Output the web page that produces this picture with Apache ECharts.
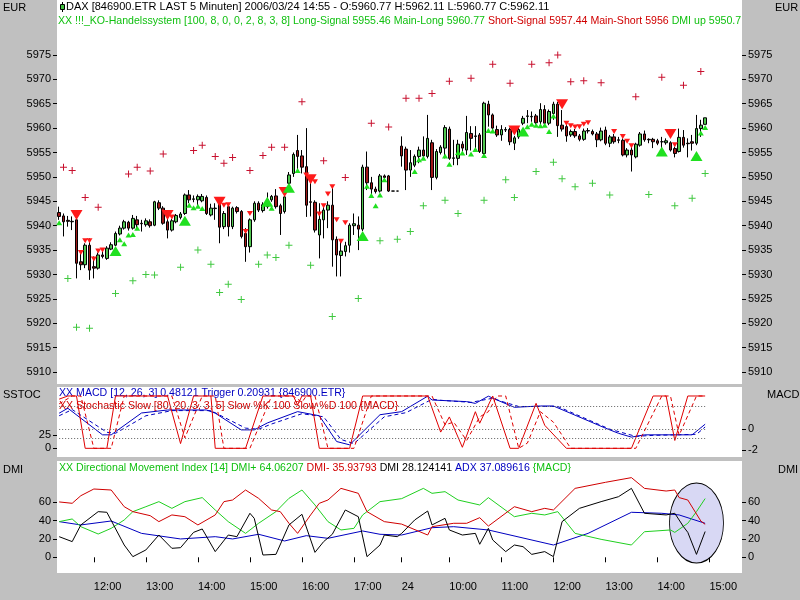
<!DOCTYPE html>
<html><head><meta charset="utf-8">
<script src="https://cdn.jsdelivr.net/npm/echarts@6/dist/echarts.min.js"></script>
<style>html,body{margin:0;padding:0;background:#c0c0c0;}#c{width:800px;height:600px;}</style>
</head><body><div id="c"></div>
<script>
// ---------- DATA ----------
// sessions (5-minute bars); trailing empty slots extend the axis to the right
const sessions = [['11:20','17:50'], ['09:05','15:35']];
const dayBreakLabel = '24';
// candles [open, high, low, close]
const ohlc = [
[5942.7,5943.9,5941.2,5941.9],[5942.0,5942.5,5937.8,5940.8],[5941.1,5942.0,5939.8,5940.9],[5940.8,5941.9,5939.1,5940.9],
[5941.2,5941.5,5929.2,5932.3],[5932.6,5934.3,5930.9,5932.0],[5932.0,5936.4,5931.3,5936.0],[5936.0,5937.4,5928.9,5930.9],
[5931.6,5933.7,5929.2,5931.3],[5931.3,5934.5,5931.0,5934.0],[5934.0,5935.0,5933.3,5933.7],[5933.3,5935.8,5933.0,5935.4],
[5935.2,5936.6,5935.0,5936.1],[5936.0,5938.8,5935.8,5938.4],[5938.3,5940.0,5938.0,5939.5],[5939.5,5941.2,5939.2,5940.8],
[5940.7,5941.0,5939.0,5939.5],[5939.5,5942.2,5939.2,5941.5],[5941.2,5942.0,5939.1,5940.2],[5940.5,5941.2,5938.8,5940.4],
[5940.2,5941.5,5939.8,5941.0],[5940.8,5941.3,5939.6,5940.0],[5940.1,5945.1,5939.9,5944.9],[5944.7,5945.2,5943.2,5943.6],
[5943.6,5944.0,5940.2,5940.5],[5940.8,5942.5,5937.4,5939.1],[5939.1,5941.4,5938.8,5941.0],[5940.8,5942.4,5940.5,5942.1],
[5941.7,5942.8,5941.3,5942.4],[5942.5,5946.6,5942.2,5946.3],[5946.3,5947.3,5944.6,5945.3],[5945.4,5946.2,5944.8,5945.5],
[5945.3,5946.4,5944.2,5946.0],[5945.1,5946.5,5944.8,5946.0],[5945.8,5946.2,5942.2,5942.5],[5942.2,5944.5,5941.9,5943.6],
[5943.5,5944.6,5941.2,5943.6],[5944.9,5945.3,5936.4,5939.7],[5939.8,5943.0,5939.3,5942.5],[5943.9,5944.3,5937.8,5939.8],
[5939.8,5943.9,5939.3,5943.6],[5943.7,5944.0,5942.5,5942.9],[5942.9,5943.2,5937.4,5937.8],[5938.4,5939.5,5932.6,5935.7],
[5935.7,5941.5,5934.5,5941.2],[5941.2,5945.0,5940.8,5944.6],[5944.6,5945.0,5942.8,5943.2],[5943.1,5944.8,5942.7,5944.3],
[5943.9,5946.8,5943.5,5945.3],[5945.3,5946.3,5944.9,5946.0],[5946.1,5947.5,5943.5,5943.9],[5944.1,5944.5,5938.1,5942.5],
[5942.9,5946.5,5942.5,5945.9],[5948.7,5951.0,5948.4,5950.4],[5950.7,5955.0,5950.0,5954.6],[5955.4,5958.6,5951.4,5954.2],
[5954.3,5955.5,5950.7,5952.0],[5952.1,5960.0,5941.8,5944.2],[5944.9,5949.4,5941.9,5944.8],[5944.8,5945.2,5938.6,5939.1],
[5938.1,5944.6,5933.3,5941.3],[5941.2,5944.2,5937.4,5943.2],[5943.2,5945.0,5939.5,5944.2],[5944.2,5948.0,5931.6,5937.1],
[5937.2,5937.8,5929.6,5934.0],[5933.9,5937.1,5929.6,5934.8],[5934.7,5936.7,5933.7,5935.9],[5936.0,5940.5,5934.5,5940.1],
[5940.0,5942.5,5938.1,5940.4],[5940.1,5941.9,5935.0,5939.3],[5939.3,5952.5,5938.9,5952.0],[5952.0,5955.2,5947.3,5948.8],
[5948.8,5950.0,5946.5,5947.5],[5947.5,5948.0,5946.6,5947.0],[5947.1,5950.6,5946.8,5950.2],[5950.2,5950.5,5949.6,5949.9],
[5950.2,5950.4,5946.9,5947.1],[5947.1,5947.1,5947.1,5947.1],[5947.1,5947.1,5947.1,5947.1],
[5956.3,5958.3,5952.1,5954.3],[5955.7,5956.2,5947.3,5951.4],[5951.4,5955.5,5950.0,5952.9],[5952.4,5954.6,5952.0,5954.2],
[5954.2,5956.2,5952.8,5955.5],[5955.5,5958.3,5953.5,5954.3],[5954.2,5962.7,5953.8,5957.9],[5957.0,5957.6,5947.3,5949.9],
[5949.9,5955.7,5949.5,5955.2],[5955.0,5956.5,5954.6,5956.1],[5955.9,5960.6,5953.8,5960.1],[5959.8,5960.3,5953.5,5953.8],
[5953.8,5957.6,5952.4,5953.9],[5953.8,5957.6,5952.4,5956.7],[5956.7,5957.3,5955.2,5955.9],[5955.5,5962.5,5954.5,5959.1],
[5958.9,5960.4,5955.4,5957.9],[5958.4,5960.4,5955.9,5958.3],[5958.6,5959.0,5954.9,5955.2],[5954.8,5965.4,5954.5,5965.1],
[5964.9,5965.6,5960.3,5962.7],[5962.7,5963.0,5959.6,5960.0],[5959.7,5960.5,5958.2,5958.6],[5958.6,5960.6,5957.4,5959.7],
[5959.6,5960.2,5959.2,5959.7],[5959.7,5960.1,5956.5,5957.2],[5956.9,5958.4,5955.5,5958.0],[5958.2,5960.2,5957.8,5959.7],
[5961.0,5962.5,5960.6,5962.0],[5962.4,5963.7,5961.0,5962.5],[5962.4,5963.4,5961.3,5962.3],[5962.5,5962.9,5960.8,5961.1],
[5961.3,5965.1,5960.6,5963.8],[5963.8,5964.7,5960.6,5961.0],[5961.0,5963.8,5960.6,5963.4],[5963.0,5965.4,5961.7,5964.9],
[5964.9,5965.4,5958.2,5960.5],[5960.6,5963.7,5959.3,5959.8],[5960.3,5960.7,5957.2,5958.4],[5958.6,5959.7,5958.2,5959.3],
[5959.3,5959.8,5958.0,5958.4],[5958.4,5958.8,5957.3,5957.7],[5957.7,5959.9,5957.4,5959.4],[5959.4,5960.0,5958.9,5959.5],
[5959.3,5959.7,5958.5,5958.8],[5958.8,5959.2,5956.1,5957.6],[5957.6,5960.1,5957.3,5959.4],[5959.6,5960.3,5956.5,5956.9],
[5956.9,5958.6,5956.1,5958.2],[5958.2,5958.8,5956.8,5957.2],[5957.6,5958.2,5956.9,5957.5],[5957.5,5957.9,5954.2,5954.5],
[5954.5,5955.9,5954.0,5955.5],[5955.5,5956.5,5951.1,5954.5],[5954.1,5957.0,5953.8,5956.7],[5956.5,5959.2,5956.2,5958.8],
[5958.8,5959.5,5957.2,5957.6],[5957.7,5957.9,5956.9,5957.6],[5957.7,5958.0,5955.9,5957.2],[5957.4,5957.8,5956.5,5956.9],
[5957.2,5958.2,5955.9,5957.2],[5957.0,5957.9,5956.6,5957.4],[5957.0,5957.3,5955.2,5955.5],[5955.8,5956.2,5954.0,5954.8],
[5955.2,5959.9,5955.0,5958.1],[5958.1,5959.6,5956.0,5956.5],[5956.9,5957.9,5954.0,5956.8],[5957.2,5958.6,5955.4,5956.9],
[5956.9,5962.7,5956.5,5959.9],[5959.9,5961.7,5958.2,5960.6],[5960.77,5962.11,5960.77,5962.11]
];
// signal markers [barIndex, price]
const shortStops = [[1,5952.0],[3,5951.3],[6,5945.8],[9,5943.8],[16,5950.6],[18,5952.0],[21,5951.2],[24,5954.7],[31,5955.4],[33,5956.5],[36,5954.2],[38,5952.8],[40,5954.0],[44,5951.3],[47,5954.4],[49,5956.1],[52,5956.1],[56,5965.4],[61,5953.3],[66,5949.9],[72,5961.0],[76,5960.2],[80,5966.1],[83,5966.1],[86,5967.1],[90,5969.6],[95,5970.2],[100,5973.1],[104,5969.2],[109,5973.1],[113,5973.4],[115,5975.0],[118,5969.5],[121,5969.7],[125,5969.3],[133,5966.4],[139,5970.4],[144,5968.8],[148,5971.6]];
const longStops = [[2,5929.2],[4,5919.2],[7,5919.0],[13,5926.1],[17,5928.7],[20,5930.0],[22,5929.9],[28,5931.5],[32,5935.0],[35,5932.1],[37,5926.3],[39,5928.0],[42,5924.9],[46,5932.1],[48,5934.0],[50,5933.5],[53,5936.0],[58,5931.9],[63,5921.4],[69,5925.1],[74,5936.9],[78,5937.2],[81,5938.8],[84,5944.1],[89,5945.2],[92,5942.5],[98,5945.2],[103,5949.4],[105,5945.8],[110,5951.1],[114,5953.0],[116,5949.6],[119,5948.0],[123,5948.7],[127,5946.3],[136,5946.4],[142,5944.1],[146,5945.6],[149,5950.7]];
const shortMain = [[4,5942.2],[25,5942.2],[37,5944.9],[52,5946.9],[58,5949.5],[105,5959.5],[116,5964.9],[141,5958.8]];
const shortSignal = [[5,5934.5],[6,5936.9],[7,5936.9],[8,5933.2],[9,5934.8],[10,5935.0],[26,5941.8],[38,5944.2],[39,5944.3],[43,5938.8],[44,5942.5],[57,5950.4],[59,5949.0],[60,5942.4],[61,5944.1],[62,5946.5],[63,5948.0],[64,5941.2],[65,5936.8],[66,5940.6],[117,5961.0],[118,5960.5],[119,5960.2],[120,5960.3],[121,5960.8],[122,5961.1],[128,5959.3],[130,5958.3],[131,5957.3],[132,5956.4],[142,5956.6]];
const longMain = [[13,5934.8],[29,5941.0],[48,5944.9],[53,5947.8],[70,5937.9],[107,5959.3],[139,5955.2],[147,5954.3]];
const longSignal = [[0,5940.6],[14,5937.1],[15,5936.3],[16,5938.1],[17,5938.2],[18,5939.5],[30,5944.2],[31,5943.7],[32,5944.0],[33,5943.5],[49,5943.6],[55,5951.3],[71,5948.1],[72,5946.2],[73,5944.1],[74,5946.3],[75,5949.4],[82,5951.1],[83,5953.5],[84,5953.8],[89,5954.3],[90,5952.6],[92,5955.0],[93,5954.9],[95,5954.7],[96,5955.6],[98,5954.4],[99,5959.5],[100,5959.4],[108,5960.3],[109,5960.8],[110,5960.6],[111,5960.5],[112,5960.6],[113,5959.3],[114,5962.5],[148,5959.0],[149,5960.1]];
// stochastic slow %K / %D  [barIndex, value]
const stochK = [[0,94],[2,100],[4,100],[6,0],[11,0],[13,100],[25,100],[28,9],[31,100],[35,100],[36,0],[43,0],[47,100],[54,100],[55,83],[56,100],[58,100],[60,0],[67,0],[70,100],[85,100],[88,31],[90,60],[93,2],[96,70],[97,48],[100,100],[104,0],[106,0],[110,86],[112,44],[117,0],[132,0],[137,100],[140,100],[142,15],[145,100],[149,100]];
const stochD = [[0,85],[3,100],[5,100],[8,0],[12,0],[15,100],[26,100],[29,20],[33,100],[36,100],[38,0],[44,0],[49,100],[54,100],[56,88],[57,100],[59,100],[62,0],[68,0],[72,100],[86,100],[89,45],[91,50],[94,15],[97,60],[99,70],[101,100],[103,100],[106,0],[108,10],[111,70],[114,50],[118,0],[133,0],[139,100],[141,100],[143,25],[147,100],[149,100]];
// MACD / trigger
const macd = [[0,1.55],[2,2.03],[10,-0.55],[12,-0.55],[19,1.57],[25,1.86],[34,1.86],[36,1.55],[42,-0.07],[45,-0.07],[48,0.6],[55,1.7],[60,1.3],[64,-1.2],[67,-1.52],[74,1.4],[79,1.7],[85,3.2],[86,2.83],[94,2.67],[96,2.5],[99,3.2],[101,2.83],[105,2.12],[111,2.25],[114,2.25],[126,0.1],[129,-0.4],[132,-0.77],[135,-0.55],[146,-0.55],[149,0.48]];
const trigger = [[0,1.3],[3,1.9],[11,-0.3],[13,-0.4],[20,1.3],[26,1.8],[35,1.8],[43,0.1],[46,0.0],[49,0.5],[56,1.5],[61,1.2],[65,-1.0],[68,-1.4],[75,1.2],[80,1.6],[86,2.9],[88,2.8],[95,2.6],[100,3.0],[102,2.7],[106,2.2],[112,2.2],[115,2.2],[127,0.0],[133,-0.7],[137,-0.6],[147,-0.5],[149,0.21]];
// DMI
const dmiPlus = [[0,38.9],[3,41.8],[5,33.4],[9,25.4],[12,31.6],[15,40.7],[17,49.8],[20,55.2],[23,60.7],[26,53.4],[29,60.7],[33,65.1],[36,51.6],[39,38.9],[43,26.1],[46,37.1],[50,49.8],[53,64.3],[56,73.4],[59,57.1],[62,38.9],[65,29.8],[68,31.6],[70,46.2],[74,60.7],[79,64],[84,75.2],[86,69.8],[89,71.6],[92,62.5],[97,57.1],[99,65.1],[105,44.3],[109,48.0],[112,46.2],[115,49.8],[119,26.1],[125,19.6],[132,13.4],[135,27.9],[141,29.8],[142,27.2],[145,37.1],[147,49.8],[149,64.06]];
const dmiMinus = [[0,60.4],[3,58.9],[5,67.2],[8,74.5],[12,73.4],[15,55.2],[17,49.8],[21,45.4],[23,38.9],[26,46.2],[29,44.3],[32,35.3],[36,46.2],[38,60.7],[40,62.5],[43,73.4],[46,64.3],[49,51.6],[51,49.8],[53,37.1],[55,26.1],[58,46.2],[60,58.9],[62,62.5],[65,75.2],[69,69.8],[71,49.8],[75,38.9],[79,36.2],[85,24.3],[86,33.4],[91,37.1],[94,37.1],[97,43.2],[99,34.1],[105,55.2],[109,49.8],[112,53.4],[114,51.6],[119,75.2],[126,81.8],[132,86.9],[135,75.2],[140,72.3],[142,73.4],[143,65.1],[145,62.5],[148,39.6],[149,35.94]];
const dmiLine = [[0,22.5],[3,17.1],[5,35.3],[9,49.8],[11,49.1],[15,13.4],[17,0.7],[20,8.0],[23,24.3],[26,9.8],[28,10.5],[31,27.2],[33,30.9],[36,6.2],[39,24.3],[41,22.5],[44,48.0],[45,42.5],[47,2.5],[50,3.2],[53,35.3],[56,46.9],[59,5.4],[61,17.1],[63,25.1],[66,51.6],[69,44.3],[71,0.7],[74,13.4],[75,24.3],[78,22.5],[79,26.1],[82,40.7],[85,50.5],[86,35.3],[89,42.5],[90,29.8],[93,24.3],[96,26.1],[97,14.2],[99,31.6],[100,18.9],[103,6.2],[105,13.4],[107,11.6],[109,3.2],[112,6.2],[114,0.7],[116,38.9],[120,53.4],[125,60.7],[129,66.1],[132,75.2],[134,57.1],[135,48.0],[140,46.2],[142,48.0],[144,33.4],[145,27.2],[147,3.2],[149,28.12]];
const adx = [[0,38.9],[5,35.3],[12,39.6],[19,26.1],[28,20.0],[36,22.5],[40,20.0],[46,25.1],[52,17.8],[57,23.6],[62,20.7],[70,28.7],[74,25.1],[79,24.3],[86,32.3],[91,33.4],[99,29.8],[114,13.4],[122,26.1],[132,49.1],[139,48.0],[143,46.2],[149,37.09]];
// tick labels
const priceTicks = [5910,5915,5920,5925,5930,5935,5940,5945,5950,5955,5960,5965,5970,5975];
const stochTicks = [0,25];
const macdTicks = [-2,0];
const dmiTicks = [0,20,40,60];
const stochLevels = [20,80];
const highlight = {bar:146.7, value:37.4}; // circled area in DMI pane

// ---------- BUILD ----------
const cats = [];
const dayStarts = [];
sessions.forEach(([a,b]) => {
  let [h,m] = a.split(':').map(Number);
  const [eh,em] = b.split(':').map(Number);
  dayStarts.push(cats.length);
  while (h*60+m <= eh*60+em) {
    cats.push(String(h).padStart(2,'0')+':'+String(m).padStart(2,'0'));
    m += 5; if (m>=60){m-=60;h++;}
  }
});
const FONT = 'Liberation Sans, Arial, sans-serif';
const F2 = '10.6px ' + FONT;
const showTick = (i,v) => v.slice(3)==='00' || i===dayStarts[1];
const candleData = ohlc.map(d => [d[0], d[3], d[2], d[1]]);
const lastBar = ohlc.length - 1;

const chart = echarts.init(document.getElementById('c'), null, {renderer:'canvas'});
const grids = [
  {left:57, right:58, top:0, height:384},
  {left:57, right:58, top:387, height:70},
  {left:57, right:58, top:461, height:112}
].map(g => Object.assign(g, {show:true, backgroundColor:'#ffffff', borderWidth:0, containLabel:false}));

function xax(gi){
  return {type:'category', gridIndex:gi, data:cats, boundaryGap:true, show: gi===2, offset:4,
    axisLine:{show:false},
    axisTick:{show:true, alignWithLabel:true, interval:showTick, length:5, lineStyle:{color:'#000'}},
    axisLabel:{interval:showTick, formatter:(v,i)=> i===dayStarts[1] ? dayBreakLabel : v,
      align:'left', margin:4, color:'#000', fontSize:11, fontFamily:FONT},
    splitLine:{show:false}};
}
function yax(gi, pos, min, max, ticks){
  return {type:'value', gridIndex:gi, position:pos, min:min, max:max,
    splitLine:{show:false}, axisLine:{show:false},
    axisTick:{show:true, length:4, customValues:ticks, lineStyle:{color:'#000'}},
    axisLabel:{customValues:ticks, formatter:v => String(v), margin:6, color:'#000', fontSize:11, fontFamily:FONT}};
}
const plus = 'path://M3,0H4V3H7V4H4V7H3V4H0V3H3Z';
function marks(data, color, symbol, size, rot){
  return {type:'scatter', xAxisIndex:0, yAxisIndex:0, data:data, symbol:symbol, symbolSize:size,
    symbolRotate:rot||0, itemStyle:{color:color, opacity:1}, z:4, silent:true};
}
function ln(data, x, y, color, dashed, extra){
  return Object.assign({type:'line', xAxisIndex:x, yAxisIndex:y, data:data, showSymbol:false, symbol:'none',
    lineStyle:{color:color, width:1, type: dashed ? [4,3] : 'solid'}, z:3, silent:true}, extra||{});
}
const dotted = {color:'#606060', width:1, type:[1,2]};
function hline(v){ return [{coord:[0,v]},{coord:[lastBar,v]}]; }

const txt = (x,y,text,fill,extra,font) => Object.assign({type:'text', x:x, y:y, z:1,
  style:{text:text, fill:fill, font:font || ('11px '+FONT), verticalAlign:'middle'}}, extra||{});

const line2 = 'XX !!!_KO-Handelssystem [100, 8, 0, 0, 2, 8, 3, 8] Long-Signal 5955.46 Main-Long 5960.77 {r|Short-Signal 5957.44 Main-Short 5956 }DMI up 5950.7';
const dmiText = 'XX Directional Movement Index [14] DMI+ 64.06207 {r|DMI- 35.93793 }{k|DMI 28.124141 }{b|ADX 37.089616 }{MACD}';

const option = {
  animation:false,
  backgroundColor:'#c0c0c0',
  grid: grids,
  xAxis:[xax(0), xax(1), xax(2)],
  yAxis:[
    yax(0,'left',5907.56,5986.25,priceTicks), yax(0,'right',5907.56,5986.25,priceTicks),
    yax(1,'left',-16.6,117.2,stochTicks), yax(1,'right',-2.70,4.09,macdTicks),
    yax(2,'left',-17.13,105.05,dmiTicks), yax(2,'right',-17.13,105.05,dmiTicks)
  ],
  series:[
    {type:'candlestick', xAxisIndex:0, yAxisIndex:0, data:candleData, barWidth:3, z:2, silent:true,
     itemStyle:{color:'#50c850', color0:'#a01818', borderColor:'#000', borderColor0:'#000', borderWidth:1}},
    marks(shortStops, '#c8102e', plus, 7),
    marks(longStops, '#40c840', plus, 7),
    marks(shortSignal, '#ff1a1a', 'triangle', [6,5], 180),
    marks(shortMain, '#ff1a1a', 'triangle', [12,10], 180),
    marks(longSignal, '#20e020', 'triangle', [6,5]),
    marks(longMain, '#20e020', 'triangle', [12,10]),
    ln(macd, 1, 3, '#0000c0', false, {markLine:{silent:true, symbol:'none', label:{show:false}, lineStyle:dotted, data:[hline(0)]}}),
    ln(trigger, 1, 3, '#0000c0', true),
    ln(stochK, 1, 2, '#e00000', false, {markLine:{silent:true, symbol:'none', label:{show:false}, lineStyle:dotted, data:stochLevels.map(hline)}}),
    ln(stochD, 1, 2, '#e00000', true),
    ln(adx, 2, 4, '#0000c0', false),
    ln(dmiPlus, 2, 4, '#20d020', false),
    ln(dmiMinus, 2, 4, '#d00000', false),
    ln(dmiLine, 2, 4, '#000000', false)
  ],
  graphic:[
    txt(3,8,'EUR','#000'),
    txt(3,395,'SSTOC','#000'),
    txt(3,470,'DMI','#000'),
    {type:'line', z:1, shape:{x1:62.5,y1:2,x2:62.5,y2:12}, style:{stroke:'#000',lineWidth:1}},
    {type:'rect', z:1, shape:{x:60.5,y:4.5,width:4,height:5}, style:{fill:'#40c040',stroke:'#000',lineWidth:1}},
    txt(66,7,'DAX [846900.ETR LAST 5 Minuten] 2006/03/24 14:55 - O:5960.77 H:5962.11 L:5960.77 C:5962.11','#000'),
    {type:'text', x:58, y:21, z:1, style:{text:line2, fill:'#10c010', font:F2, verticalAlign:'middle',
        rich:{r:{fill:'#d00000', font:F2}}}},
    txt(59,393,'XX MACD [12, 26, 3] 0.48121 Trigger 0.20931 {846900.ETR}','#0000c0',null,F2),
    txt(59,406,'XX Stochastic Slow [80, 20, 3, 3, 5] Slow %K 100 Slow %D 100 {MACD}','#d00000',null,F2),
    {type:'text', x:59, y:468, z:1, style:{text:dmiText, fill:'#10c010', font:F2, verticalAlign:'middle',
        rich:{r:{fill:'#d00000',font:F2}, k:{fill:'#000',font:F2}, b:{fill:'#0000c0',font:F2}}}},
    {type:'rect', z:5, shape:{x:742,y:0,width:58,height:40}, style:{fill:'#c0c0c0'}},
    txt(775,8,'EUR','#000',{z:6}),
    txt(767,395,'MACD','#000'),
    txt(778,470,'DMI','#000')
  ]
};
chart.setOption(option);

// circled highlight in the DMI pane, placed from data coordinates
const c = chart.convertToPixel({xAxisIndex:2, yAxisIndex:4}, [highlight.bar, highlight.value]);
const g = option.graphic.slice();
g.push({type:'circle', z:1, x:c[0], y:c[1], scaleX:27/40, shape:{cx:0, cy:0, r:40},
  style:{fill:'#d8d8f4', stroke:'#000', lineWidth:1.2}});
chart.setOption({graphic:g}, {replaceMerge:['graphic']});
</script>
</body></html>
